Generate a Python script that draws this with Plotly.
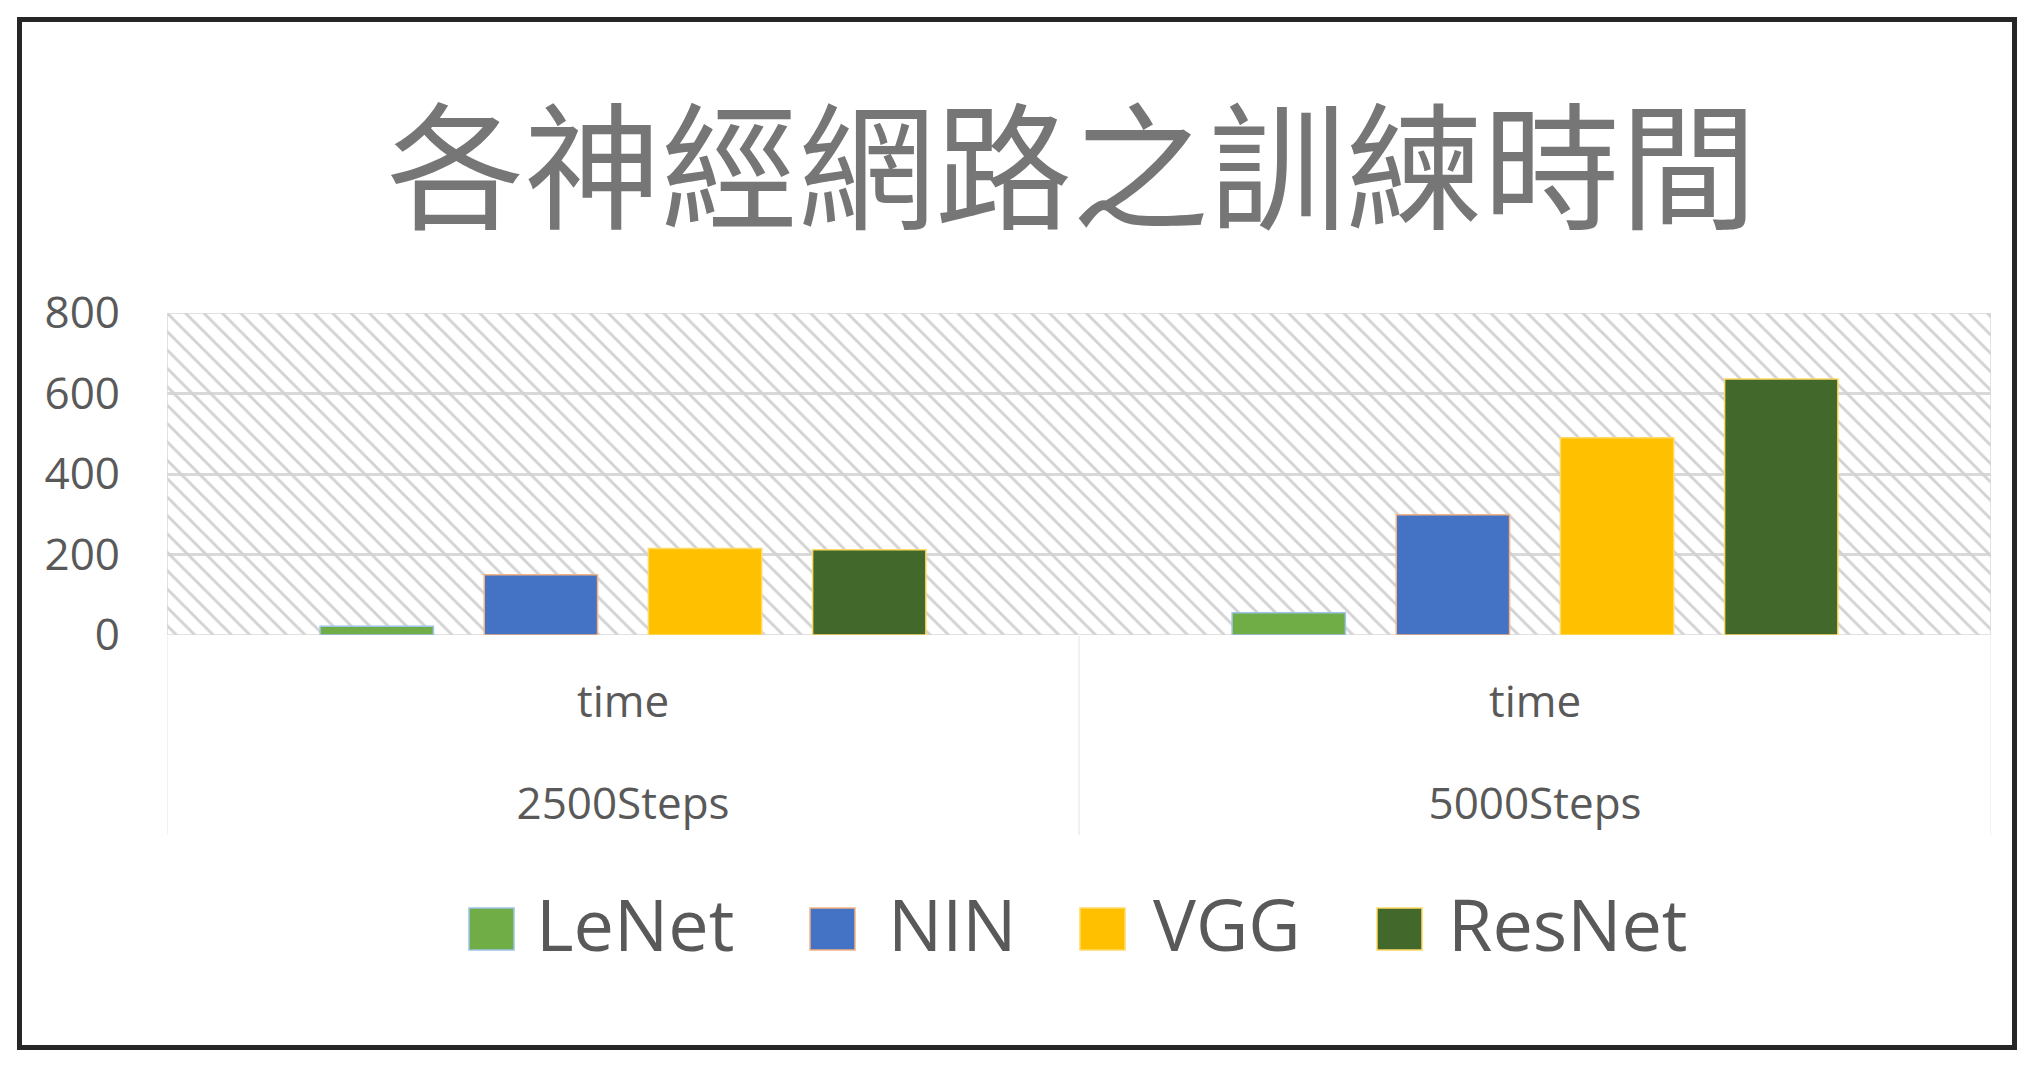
import plotly.graph_objects as go

# ---- data ----
steps = ["2500Steps", "5000Steps"]
metric = ["time", "time"]
series = ["LeNet", "NIN", "VGG", "ResNet"]
lenet = [22, 55]
nin = [150, 299]
vgg = [215, 490]
resnet = [212, 636]
y_ticks = [0, 200, 400, 600, 800]
title_text = "各神經網路之訓練時間"

values = [lenet, nin, vgg, resnet]
colors = ["#70AD47", "#4472C4", "#FFC000", "#43682B"]
outlines = ["#9DC3E6", "#F4B183", "#FFD966", "#FFD966"]

W, H = 2033, 1068
L, R, T, B = 167, 1991, 313, 635
FONT = "Open Sans"
TXT = "#595959"


def px(x):
    return (x - L) / (R - L)


def py(y):
    return (B - y) / (B - T)


fig = go.Figure()

# hatched plot-area background (own subplot underneath the data)
fig.add_trace(go.Bar(
    x=[0.5], y=[y_ticks[-1]], width=[1], xaxis="x", yaxis="y",
    marker=dict(color="rgba(0,0,0,0)",
                line=dict(color="#d9d9d9", width=1.5),
                pattern=dict(shape="\\", size=13, solidity=0.22,
                             fgcolor="#d2d2d2", bgcolor="rgba(0,0,0,0)",
                             fillmode="replace")),
    showlegend=False, hoverinfo="skip"))

for name, vals, c, oc in zip(series, values, colors, outlines):
    fig.add_trace(go.Bar(
        name=name, x=steps, y=vals, xaxis="x2", yaxis="y",
        marker=dict(color=c, line=dict(color=oc, width=1.5)),
        showlegend=False))

shapes = []
annotations = []

# inner category level ("time") and category dividers
for cat, m in zip(steps, metric):
    annotations.append(dict(text=m, xref="x2", yref="paper", x=cat, y=py(700),
                            xanchor="center", yanchor="middle", showarrow=False,
                            font=dict(family=FONT, size=44, color=TXT)))
for i in range(len(steps) + 1):
    shapes.append(dict(type="line", xref="x2", yref="paper",
                       x0=i - 0.5, x1=i - 0.5, y0=py(835), y1=py(636),
                       line=dict(color="#ececec", width=1.5)))

# manual legend (large swatches)
sw_x = [469, 810, 1080, 1377]
tx_x = [534, 886, 1151, 1446]
for name, c, oc, sx, tx in zip(series, colors, outlines, sw_x, tx_x):
    shapes.append(dict(type="rect", xref="paper", yref="paper",
                       x0=px(sx), x1=px(sx + 45), y0=py(950), y1=py(908),
                       fillcolor=c, line=dict(color=oc, width=1.5)))
    annotations.append(dict(text=name, xref="paper", yref="paper",
                            x=px(tx), y=py(923), xanchor="left", yanchor="middle",
                            showarrow=False,
                            font=dict(family=FONT, size=72, color=TXT)))

# outer frame
shapes.append(dict(type="rect", xref="paper", yref="paper",
                   x0=px(19.5), x1=px(2014.5), y0=py(1047.5), y1=py(19.5),
                   line=dict(color="#262626", width=5), fillcolor="rgba(0,0,0,0)"))

fig.update_layout(
    width=W, height=H,
    margin=dict(l=L, r=W - R, t=T, b=H - B, pad=0),
    paper_bgcolor="white", plot_bgcolor="white",
    barmode="group", bargap=0.28, bargroupgap=0.31,
    title=dict(text=title_text, x=1072 / W, xanchor="center",
               y=1 - 171 / H, yanchor="middle", yref="container",
               font=dict(family="Noto Sans CJK TC", size=137, color="#767676")),
    xaxis=dict(range=[0, 1], visible=False, fixedrange=True),
    xaxis2=dict(type="category", overlaying="x", anchor="y", side="bottom",
                range=[-0.5, len(steps) - 0.5],
                showgrid=False, showline=False, zeroline=False, ticks="",
                ticklabelstandoff=139,
                tickfont=dict(family=FONT, size=44, color=TXT)),
    yaxis=dict(range=[0, 800], tickvals=y_ticks, showgrid=True,
               gridcolor="#d9d9d9", gridwidth=3, zeroline=False, showline=False,
               ticks="", ticklabelstandoff=46,
               tickfont=dict(family=FONT, size=44, color=TXT)),
    shapes=shapes, annotations=annotations,
    showlegend=False,
)

fig.write_html("out.html")
